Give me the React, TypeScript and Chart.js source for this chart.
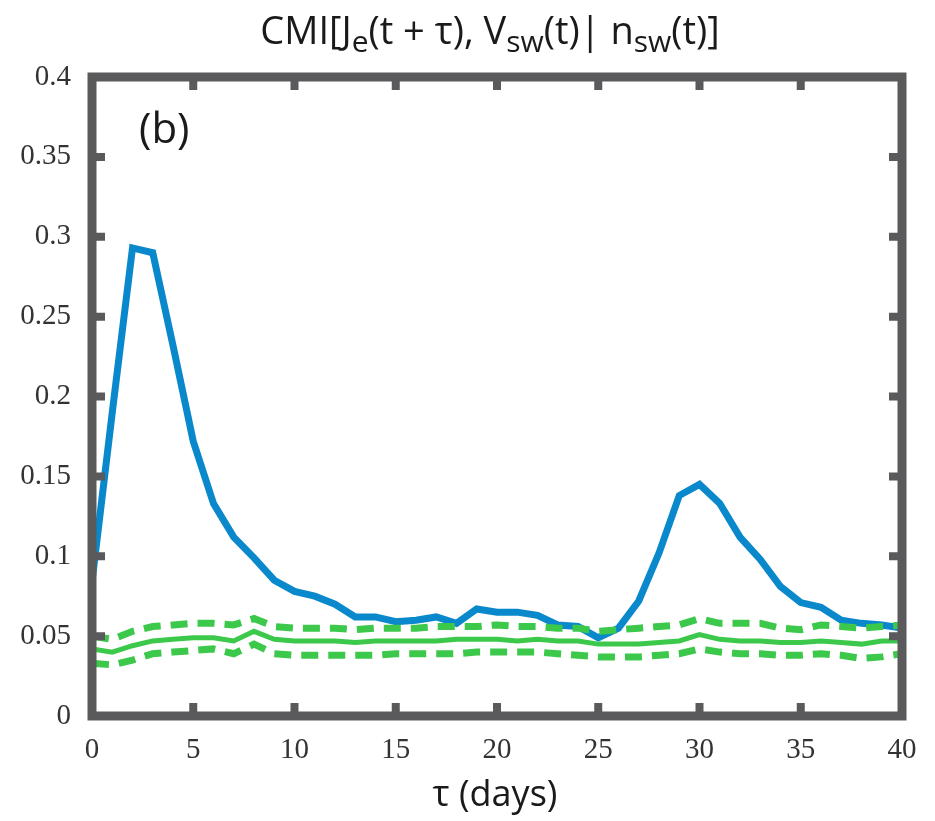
import React, { useEffect, useRef } from "react";
import { Chart, registerables } from "chart.js";

Chart.register(...registerables);

const tau = [0,1,2,3,4,5,6,7,8,9,10,11,12,13,14,15,16,17,18,19,20,21,22,23,24,25,26,27,28,29,30,31,32,33,34,35,36,37,38,39,40];
const cmi = [0.084,0.19,0.293,0.290,0.232,0.172,0.133,0.112,0.099,0.085,0.078,0.075,0.070,0.062,0.062,0.059,0.060,0.062,0.058,0.067,0.065,0.065,0.063,0.057,0.056,0.049,0.055,0.072,0.102,0.138,0.145,0.133,0.112,0.098,0.081,0.071,0.068,0.060,0.058,0.057,0.055];
const surrMean = [0.042,0.040,0.044,0.047,0.048,0.049,0.049,0.047,0.053,0.048,0.047,0.047,0.047,0.046,0.047,0.047,0.047,0.047,0.048,0.048,0.048,0.047,0.048,0.047,0.047,0.045,0.045,0.045,0.046,0.047,0.051,0.048,0.047,0.047,0.046,0.046,0.047,0.046,0.045,0.047,0.047];
const surrUpper = [0.050,0.048,0.053,0.056,0.057,0.058,0.058,0.057,0.061,0.056,0.055,0.055,0.055,0.054,0.055,0.055,0.055,0.056,0.056,0.056,0.057,0.056,0.056,0.055,0.055,0.053,0.054,0.055,0.056,0.057,0.061,0.058,0.058,0.058,0.055,0.054,0.057,0.056,0.055,0.056,0.057];
const surrLower = [0.033,0.032,0.035,0.039,0.040,0.041,0.042,0.039,0.045,0.039,0.038,0.038,0.038,0.038,0.038,0.039,0.039,0.039,0.039,0.040,0.040,0.040,0.040,0.039,0.038,0.037,0.037,0.037,0.038,0.039,0.042,0.040,0.039,0.039,0.038,0.038,0.039,0.038,0.036,0.037,0.039];
const xTicks = [0,5,10,15,20,25,30,35,40];
const yTicks = [0,0.05,0.1,0.15,0.2,0.25,0.3,0.35,0.4];

const AXIS = "#5a5a5c";
const BLUE = "#0a88cc";
const GREEN = "#3cc84a";

const pts = (ys: number[]) => tau.map((t, i) => ({ x: t, y: ys[i] }));

const framePlugin = {
  id: "frame",
  afterDatasetsDraw(chart: any) {
    const { ctx, chartArea: a, scales } = chart;
    const xs = scales.x, ys = scales.y;
    ctx.save();
    ctx.strokeStyle = AXIS;
    ctx.lineWidth = 9;
    ctx.strokeRect(a.left, a.top, a.right - a.left, a.bottom - a.top);
    ctx.lineWidth = 8;
    const tl = 13;
    xTicks.forEach((v, i) => {
      if (i === 0 || i === xTicks.length - 1) return;
      const px = xs.getPixelForValue(v);
      ctx.beginPath();
      ctx.moveTo(px, a.bottom);
      ctx.lineTo(px, a.bottom - tl);
      ctx.moveTo(px, a.top);
      ctx.lineTo(px, a.top + tl);
      ctx.stroke();
    });
    yTicks.forEach((v, i) => {
      if (i === 0 || i === yTicks.length - 1) return;
      const py = ys.getPixelForValue(v);
      ctx.beginPath();
      ctx.moveTo(a.left, py);
      ctx.lineTo(a.left + tl, py);
      ctx.moveTo(a.right, py);
      ctx.lineTo(a.right - tl, py);
      ctx.stroke();
    });
    ctx.restore();
  },
  afterDraw(chart: any) {
    ctx_draw(chart);
  },
};

function ctx_draw(chart: any) {
  const { ctx } = chart;
  ctx.save();
  ctx.fillStyle = "#1a1a1a";
  ctx.textBaseline = "alphabetic";
  ctx.textAlign = "left";
  ctx.font = "42px 'Open Sans'";
  ctx.fillText("(b)", 139, 143);
  ctx.font = "36px 'Open Sans'";
  ctx.textAlign = "center";
  ctx.fillText("\u03c4 (days)", 495, 806);
  const main = "38px 'Open Sans'";
  const sub = "30px 'Open Sans'";
  const parts: [string, boolean][] = [
    ["CMI[J", false], ["e", true], ["(t + \u03c4), V", false], ["sw", true],
    ["(t)| n", false], ["sw", true], ["(t)]", false],
  ];
  let total = 0;
  parts.forEach(([s, isSub]) => { ctx.font = isSub ? sub : main; total += ctx.measureText(s).width; });
  let x = 490 - total / 2;
  ctx.textAlign = "left";
  parts.forEach(([s, isSub]) => {
    ctx.font = isSub ? sub : main;
    ctx.fillText(s, x, isSub ? 52 : 44);
    x += ctx.measureText(s).width;
  });
  ctx.restore();
}

export default function App() {
  const ref = useRef<HTMLCanvasElement>(null);
  useEffect(() => {
    document.body.style.margin = "0";
    const chart = new Chart(ref.current!, {
      type: "line",
      data: {
        datasets: [
          { data: pts(surrUpper), borderColor: GREEN, borderWidth: 7, borderDash: [17, 10], pointRadius: 0, tension: 0 },
          { data: pts(surrLower), borderColor: GREEN, borderWidth: 7, borderDash: [17, 10], pointRadius: 0, tension: 0 },
          { data: pts(surrMean), borderColor: GREEN, borderWidth: 5, pointRadius: 0, tension: 0 },
          { data: pts(cmi), borderColor: BLUE, borderWidth: 7, pointRadius: 0, tension: 0 },
        ],
      },
      options: {
        animation: false,
        responsive: false,
        events: [],
        layout: { padding: { top: 77, right: 33, left: 0, bottom: 0 } },
        plugins: { legend: { display: false }, tooltip: { enabled: false } },
        scales: {
          x: {
            type: "linear",
            min: 0,
            max: 40,
            afterFit: (s: any) => { s.height = 105; },
            afterBuildTicks: (s: any) => { s.ticks = xTicks.map((v) => ({ value: v })); },
            grid: { display: false },
            border: { display: false },
            ticks: { font: { family: "'Liberation Serif'", size: 29 }, color: "#333", padding: 9, maxRotation: 0 },
          },
          y: {
            type: "linear",
            min: 0,
            max: 0.4,
            afterFit: (s: any) => { s.width = 92; },
            afterBuildTicks: (s: any) => { s.ticks = yTicks.map((v) => ({ value: v })); },
            grid: { display: false },
            border: { display: false },
            ticks: { font: { family: "'Liberation Serif'", size: 29 }, color: "#333", padding: 13, callback: (v: any) => String(+Number(v).toFixed(2)) },
          },
        },
      },
      plugins: [framePlugin],
    });
    return () => chart.destroy();
  }, []);
  return <canvas ref={ref} width={935} height={821} style={{ display: "block" }} />;
}
